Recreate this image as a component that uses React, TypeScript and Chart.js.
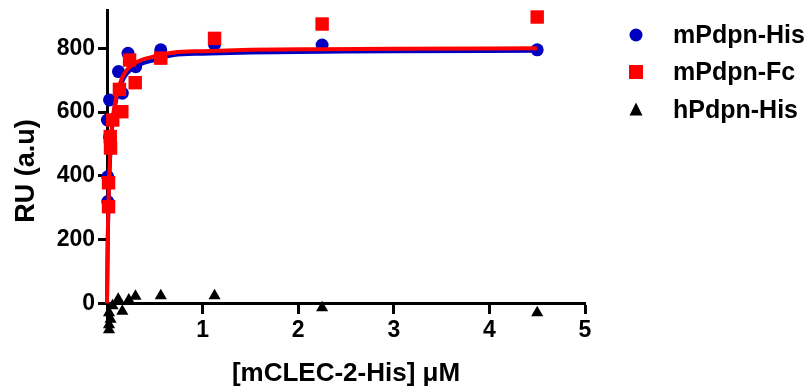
import React, { useEffect, useRef } from 'react';
import { Chart, registerables } from 'chart.js';

Chart.register(...registerables);

// ---- data ----
const seriesNames = ['mPdpn-His', 'mPdpn-Fc', 'hPdpn-His'];

// mPdpn-His (blue circles)
const hisX = [0.004, 0.008, 0.008, 0.026, 0.026, 0.12, 0.16, 0.22, 0.3, 0.5625, 1.125, 2.25, 4.5];
const hisY = [575, 397, 319, 522, 638, 727, 659, 784, 742, 795, 812, 810, 795];

// mPdpn-Fc (red squares)
const fcX = [0.016, 0.016, 0.037, 0.034, 0.06, 0.155, 0.13, 0.236, 0.295, 0.5625, 1.125, 2.25, 4.5];
const fcY = [303, 378, 487, 523, 575, 601, 671, 763, 692, 769, 831, 876, 898];

// hPdpn-His (black triangles)
const hX = [0.021, 0.037, 0.021, 0.021, 0.058, 0.117, 0.16, 0.228, 0.298, 0.5625, 1.125, 2.25, 4.5];
const hY = [-30, -50, -67, -83, -8, 13, -25, 10, 22, 24, 24, -14, -30];

// fitted curves
const fitX = [0, 0.004, 0.008, 0.012, 0.02, 0.03, 0.045, 0.06, 0.08, 0.1, 0.13, 0.18, 0.25, 0.35, 0.5, 0.7, 1, 1.5, 2.25, 3, 4.5];
const fitFcY = [0, 110, 200, 270, 370, 450, 530, 580, 620, 650, 685, 720, 745, 762, 775, 787, 791, 795, 797, 798.5, 800];
const fitHisY = [0, 105, 195, 265, 360, 440, 520, 570, 612, 642, 675, 708, 733, 750, 763, 779, 783, 787, 789, 791, 792];

const yTickValues = [0, 200, 400, 600, 800];
const xTickValues = [1, 2, 3, 4, 5];
const xAxisTitle = '[mCLEC-2-His] \u03BCM';
const yAxisTitle = 'RU (a.u)';

// ---- styles ----
const BLUE = '#0000C0';
const RED = '#FF0000';
const BLACK = '#000000';
const FONT = "'Liberation Sans', Arial, Helvetica, sans-serif";
const seriesColors = [BLUE, RED, BLACK];

const toPts = (xs: number[], ys: number[]) => xs.map((x, i) => ({ x, y: ys[i] }));

const sideLegend = {
  id: 'sideLegend',
  afterDraw(chart: any) {
    const ctx = chart.ctx as CanvasRenderingContext2D;
    const area = chart.chartArea;
    const markerX = area.right + 51;
    const textX = area.right + 88;
    const rowY = [35, 72, 110];
    ctx.save();
    seriesNames.forEach((name, i) => {
      const cy = rowY[i];
      ctx.fillStyle = seriesColors[i];
      ctx.beginPath();
      if (i === 0) {
        ctx.arc(markerX, cy, 6.5, 0, Math.PI * 2);
      } else if (i === 1) {
        ctx.rect(markerX - 7, cy - 7, 14, 14);
      } else {
        ctx.moveTo(markerX, cy - 7.5);
        ctx.lineTo(markerX + 6.5, cy + 5.5);
        ctx.lineTo(markerX - 6.5, cy + 5.5);
        ctx.closePath();
      }
      ctx.fill();
      ctx.fillStyle = BLACK;
      ctx.font = `bold 25px ${FONT}`;
      ctx.textAlign = 'left';
      ctx.textBaseline = 'middle';
      ctx.fillText(name, textX, cy + 1);
    });
    ctx.restore();
  },
};

export default function App() {
  const ref = useRef<HTMLCanvasElement | null>(null);

  useEffect(() => {
    if (!ref.current) return;
    const chart = new Chart(ref.current, {
      type: 'scatter',
      data: {
        datasets: [
          {
            label: seriesNames[2],
            data: toPts(hX, hY),
            pointStyle: 'triangle',
            pointRadius: 7,
            pointBackgroundColor: BLACK,
            pointBorderWidth: 0,
            showLine: false,
            clip: false,
          } as any,
          {
            label: seriesNames[1],
            data: toPts(fcX, fcY),
            pointStyle: 'rect',
            pointRadius: 9.5,
            pointBackgroundColor: RED,
            pointBorderWidth: 0,
            showLine: false,
            clip: false,
          },
          {
            label: seriesNames[1] + ' fit',
            data: toPts(fitX, fitFcY),
            showLine: true,
            borderColor: RED,
            borderWidth: 4,
            pointRadius: 0,
            cubicInterpolationMode: 'monotone',
            clip: false,
          },
          {
            label: seriesNames[0],
            data: toPts(hisX, hisY),
            pointStyle: 'circle',
            pointRadius: 6.5,
            pointBackgroundColor: BLUE,
            pointBorderWidth: 0,
            showLine: false,
            clip: false,
          },
          {
            label: seriesNames[0] + ' fit',
            data: toPts(fitX, fitHisY),
            showLine: true,
            borderColor: BLUE,
            borderWidth: 4,
            pointRadius: 0,
            cubicInterpolationMode: 'monotone',
            clip: false,
          },
        ],
      },
      options: {
        animation: false,
        responsive: false,
        devicePixelRatio: 1,
        events: [],
        layout: { padding: { top: 10, right: 227, bottom: 55, left: 0 } },
        plugins: {
          legend: { display: false },
          tooltip: { enabled: false },
        },
        scales: {
          x: {
            type: 'linear',
            min: 0,
            max: 5,
            position: { y: 0 } as any,
            afterBuildTicks: (scale: any) => {
              scale.ticks = xTickValues.map((v) => ({ value: v }));
            },
            afterFit: (scale: any) => {
              scale.height = 55;
              scale.paddingLeft = 0;
              scale.paddingRight = 0;
            },
            ticks: {
              color: BLACK,
              font: { family: FONT, size: 23, weight: 'bold' },
              padding: 5,
              maxRotation: 0,
              callback: (v: any) => String(v),
            },
            grid: {
              drawOnChartArea: false,
              drawTicks: true,
              tickLength: 9,
              tickWidth: 3,
              color: BLACK,
            },
            border: { display: true, color: BLACK, width: 3 },
            title: {
              display: true,
              text: xAxisTitle,
              color: BLACK,
              font: { family: FONT, size: 26, weight: 'bold' },
              padding: { top: 0, bottom: -31 },
            },
          },
          y: {
            type: 'linear',
            min: -90,
            max: 920,
            afterBuildTicks: (scale: any) => {
              scale.ticks = yTickValues.map((v) => ({ value: v }));
            },
            afterFit: (scale: any) => {
              scale.width = 107;
              scale.paddingTop = 0;
              scale.paddingBottom = 0;
            },
            ticks: {
              color: BLACK,
              font: { family: FONT, size: 23, weight: 'bold' },
              padding: 3,
              callback: (v: any) => String(v),
            },
            grid: {
              drawOnChartArea: false,
              drawTicks: true,
              tickLength: 9,
              tickWidth: 3,
              color: BLACK,
            },
            border: { display: true, color: BLACK, width: 3 },
            title: {
              display: true,
              text: yAxisTitle,
              color: BLACK,
              font: { family: FONT, size: 27, weight: 'bold' },
              padding: { top: 10, bottom: 0 },
            },
          },
        },
      },
      plugins: [sideLegend],
    });
    return () => chart.destroy();
  }, []);

  return (
    <div style={{ position: 'fixed', left: 0, top: 0, width: 812, height: 387, background: '#fff' }}>
      <canvas ref={ref} width={812} height={387} style={{ width: 812, height: 387, display: 'block' }} />
    </div>
  );
}
